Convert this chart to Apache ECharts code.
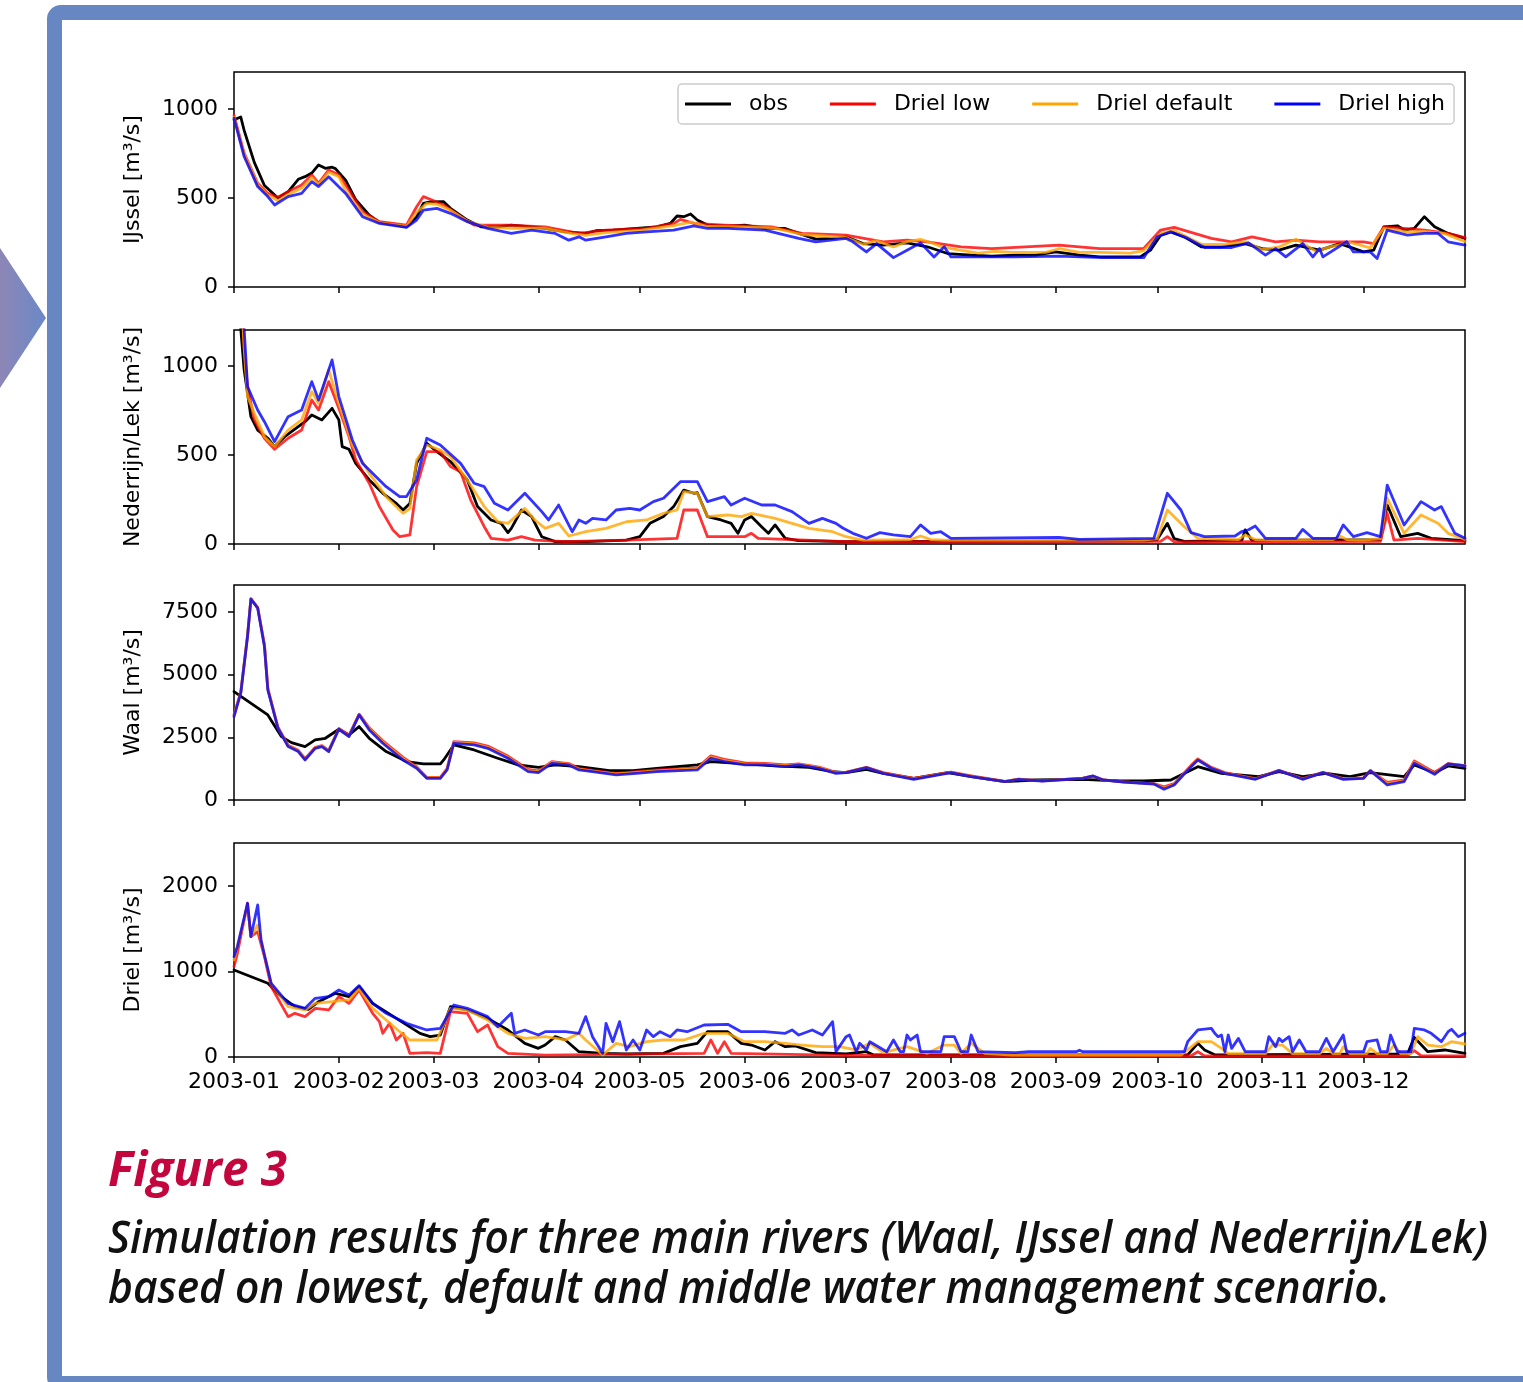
<!DOCTYPE html>
<html>
<head>
<meta charset="utf-8">
<script src="https://cdn.jsdelivr.net/npm/echarts@6/dist/echarts.min.js"></script>
<style>
  html, body { margin: 0; padding: 0; background: #fff; }
  body { width: 1523px; height: 1382px; overflow: hidden; position: relative; }
  .frame {
    position: absolute; left: 47px; top: 5px; width: 1600px; height: 1386px;
    border: 15px solid #6787c3; border-radius: 14px; box-sizing: border-box;
  }
  .arrow {
    position: absolute; left: 0; top: 248px; width: 46px; height: 140px;
    clip-path: polygon(0 0, 100% 50%, 0 100%);
    background: linear-gradient(to right, #8d86b6, #6a89c7);
  }
  #chart { position: absolute; left: 0; top: 0; width: 1523px; height: 1382px; }
  .cap {
    position: absolute; left: 108px; white-space: nowrap; font-family: "Open Sans", sans-serif;
    font-style: italic; transform-origin: 0 0;
  }
  .fig { top: 1143px; font-size: 49px; line-height: 49px; font-weight: 700; color: #c3063d; }
  .l1 { top: 1212px; font-size: 46px; line-height: 46px; font-weight: 600; color: #111; }
  .l2 { top: 1262px; font-size: 46px; line-height: 46px; font-weight: 600; color: #111; }
</style>
</head>
<body>
<div class="arrow"></div>
<div class="frame"></div>
<div id="chart"></div>
<div class="cap fig" data-w="179">Figure 3</div>
<div class="cap l1" data-w="1380">Simulation results for three main rivers (Waal, IJssel and Nederrijn/Lek)</div>
<div class="cap l2" data-w="1282">based on lowest, default and middle water management scenario.</div>
<script>
// x = day of 2003 (0 = 1 Jan), month ticks
const monthStarts = [0, 31, 59, 90, 120, 151, 181, 212, 243, 273, 304, 334]
const monthLabels = ['2003-01', '2003-02', '2003-03', '2003-04', '2003-05', '2003-06',
  '2003-07', '2003-08', '2003-09', '2003-10', '2003-11', '2003-12']

const riverNames = ['IJssel [m³/s]', 'Nederrijn/Lek [m³/s]', 'Waal [m³/s]', 'Driel [m³/s]']
const yMax = [1208, 1202, 8570, 2503]
const yTicks = [[0, 500, 1000], [0, 500, 1000], [0, 2500, 5000, 7500], [0, 1000, 2000]]
const seriesNames = ['obs', 'Driel low', 'Driel default', 'Driel high']

// IJssel
const ijsselObs = [[0,940],[2,955],[3,880],[6,700],[9,570],[13,500],[16,535],[19,605],[21,620],[23,640],[25,686],[27,667],[29,673],[30,665],[33,600],[36,490],[40,404],[43,363],[48,348],[51,338],[54,395],[56,470],[58,478],[62,479],[64,442],[69,376],[73,338],[78,338],[82,348],[88,338],[92,329],[98,310],[104,301],[107,316],[112,320],[119,329],[125,338],[129,357],[131,399],[133,395],[135,410],[137,376],[140,348],[146,342],[151,348],[157,329],[163,329],[167,301],[172,269],[177,273],[181,282],[186,244],[192,235],[199,248],[205,226],[211,188],[218,179],[224,173],[231,179],[237,179],[243,197],[250,179],[256,169],[268,169],[271,207],[274,291],[277,310],[281,282],[286,226],[292,226],[299,244],[304,216],[309,207],[314,235],[321,207],[327,244],[334,197],[337,207],[340,338],[344,344],[346,320],[349,329],[352,395],[355,338],[359,301],[364,273]]
const ijsselLow = [[0,965],[3,752],[7,583],[10,526],[13,504],[16,536],[20,573],[23,630],[25,583],[28,658],[31,630],[34,545],[38,423],[43,367],[51,348],[54,451],[56,508],[58,493],[62,461],[67,395],[71,348],[81,348],[92,338],[102,301],[110,320],[122,329],[130,357],[132,380],[136,357],[145,348],[159,338],[168,301],[181,291],[192,254],[199,263],[205,254],[215,226],[224,216],[244,235],[256,216],[269,216],[274,320],[278,335],[289,273],[295,254],[301,282],[308,254],[314,263],[321,254],[334,254],[337,244],[340,338],[346,329],[352,320],[359,301],[364,278]]
const ijsselDefault = [[0,955],[3,745],[7,575],[10,515],[13,485],[16,520],[20,555],[23,615],[25,575],[28,645],[31,620],[33,540],[38,410],[43,362],[51,340],[54,420],[57,470],[60,465],[64,432],[69,370],[75,335],[82,330],[92,330],[100,300],[104,290],[110,305],[120,318],[130,345],[135,365],[140,340],[150,338],[160,330],[168,295],[181,278],[186,240],[190,260],[195,225],[199,255],[203,268],[206,250],[209,228],[212,215],[220,190],[225,200],[230,195],[240,195],[244,215],[250,195],[256,195],[265,190],[269,205],[274,300],[278,318],[286,240],[293,240],[299,255],[304,210],[309,225],[314,268],[320,200],[324,225],[330,250],[336,220],[340,330],[347,310],[352,312],[358,300],[364,255]]
const ijsselHigh = [[0,949],[3,733],[7,564],[10,508],[12,461],[16,508],[20,526],[23,592],[25,564],[28,620],[33,526],[38,395],[43,357],[51,335],[54,376],[56,432],[60,442],[64,414],[69,367],[75,329],[82,301],[88,320],[95,301],[99,263],[102,282],[104,263],[110,282],[116,301],[122,310],[130,320],[136,344],[140,329],[146,329],[157,320],[167,273],[172,254],[181,273],[183,254],[187,197],[190,244],[195,165],[199,207],[203,248],[207,169],[210,226],[212,169],[231,169],[244,173],[257,165],[269,165],[273,282],[277,310],[282,273],[287,222],[295,222],[300,248],[305,179],[308,216],[311,169],[316,244],[319,169],[321,216],[322,169],[329,254],[331,197],[336,197],[338,160],[341,320],[347,291],[352,301],[356,301],[359,254],[364,235]]

// Nederrijn/Lek
const lekObs = [[0,1650],[2,1210],[3,978],[5,715],[7,640],[10,594],[12,547],[15,603],[17,631],[21,687],[23,725],[26,697],[29,762],[31,697],[32,547],[34,532],[36,453],[40,360],[44,285],[48,228],[50,191],[52,228],[54,453],[57,566],[60,519],[64,463],[69,360],[72,210],[76,135],[79,116],[81,64],[82,88],[85,191],[88,154],[91,41],[95,13],[104,13],[116,22],[120,41],[123,116],[127,154],[130,210],[133,303],[136,285],[137,288],[140,154],[144,135],[147,116],[149,60],[151,135],[153,154],[156,97],[158,60],[160,107],[163,32],[167,19],[181,13],[270,18],[273,25],[276,116],[278,30],[281,15],[298,20],[299,79],[301,20],[339,25],[341,219],[345,41],[350,60],[354,32],[364,19]]
const lekLow = [[0,2200],[3,1100],[4,884],[6,697],[9,594],[12,532],[16,594],[20,640],[23,809],[25,753],[28,912],[31,762],[34,603],[36,472],[40,341],[43,210],[47,79],[49,41],[52,51],[54,322],[57,519],[61,519],[64,435],[67,406],[70,247],[74,97],[76,32],[81,22],[85,41],[89,22],[98,13],[116,22],[131,32],[133,191],[137,191],[140,41],[151,41],[153,60],[155,32],[181,13],[274,15],[276,41],[278,12],[339,15],[341,172],[343,22],[350,32],[364,13]]
const lekDefault = [[0,2250],[3,1100],[4,828],[6,734],[9,603],[12,547],[16,640],[20,697],[23,856],[25,790],[28,978],[31,790],[35,556],[40,397],[45,266],[50,172],[52,200],[54,472],[57,556],[61,528],[64,491],[69,360],[74,210],[78,125],[81,116],[86,200],[89,135],[92,88],[96,116],[99,45],[104,69],[110,88],[116,125],[122,135],[127,172],[131,191],[133,294],[137,285],[140,154],[146,163],[150,154],[153,172],[160,144],[165,116],[170,88],[177,69],[181,41],[186,22],[200,25],[203,45],[206,25],[210,22],[269,22],[273,30],[276,191],[281,97],[285,32],[297,25],[299,51],[302,25],[308,22],[325,25],[327,45],[329,25],[334,22],[339,30],[341,257],[346,60],[351,163],[356,116],[359,60],[364,26]]
const lekHigh = [[0,2300],[3,1210],[4,884],[7,753],[9,687],[12,575],[16,715],[20,753],[23,912],[25,809],[29,1034],[31,828],[35,584],[38,453],[42,378],[45,322],[49,266],[51,266],[54,360],[57,594],[61,556],[67,453],[71,341],[74,322],[77,229],[81,191],[86,285],[91,182],[93,135],[96,219],[100,69],[102,135],[104,116],[106,144],[110,135],[113,191],[117,200],[120,191],[124,238],[127,257],[132,350],[137,350],[140,238],[145,266],[147,219],[151,257],[156,219],[160,219],[165,182],[170,116],[174,144],[178,116],[180,90],[183,60],[187,32],[191,64],[195,51],[200,41],[203,107],[206,60],[209,69],[212,32],[244,37],[250,26],[272,32],[276,285],[280,191],[283,64],[287,41],[296,45],[298,70],[300,80],[302,101],[305,32],[314,32],[316,82],[319,32],[326,32],[328,107],[331,41],[335,64],[339,41],[341,331],[346,107],[351,238],[355,191],[357,210],[361,60],[364,32]]

// Waal
const waalObs = [[0,4323],[10,3392],[14,2527],[17,2288],[21,2128],[24,2394],[27,2460],[31,2820],[34,2594],[37,2926],[40,2460],[45,1929],[51,1530],[56,1436],[61,1436],[62,1596],[65,2195],[71,1995],[78,1663],[84,1397],[90,1303],[95,1397],[102,1330],[111,1170],[118,1170],[125,1264],[137,1397],[141,1530],[149,1463],[160,1357],[170,1303],[177,1131],[181,1091],[187,1224],[192,1064],[201,865],[211,1091],[218,931],[228,732],[237,798],[251,825],[262,758],[269,758],[277,798],[285,1330],[292,1064],[303,931],[309,1131],[316,931],[323,1064],[330,931],[336,1091],[346,931],[349,1397],[355,1091],[359,1357],[364,1264]]
const waalLow = [[0,3400],[2,4300],[4,6550],[5,8030],[7,7680],[9,6200],[10,4450],[13,2900],[16,2180],[19,1980],[21,1650],[24,2100],[26,2170],[28,1980],[31,2850],[34,2580],[37,3420],[40,2880],[44,2360],[50,1700],[54,1330],[57,900],[61,900],[63,1250],[65,2330],[71,2280],[75,2150],[81,1750],[87,1220],[90,1160],[94,1530],[99,1450],[102,1260],[106,1180],[113,1060],[119,1130],[125,1200],[137,1280],[141,1760],[145,1620],[151,1480],[157,1460],[163,1400],[167,1440],[173,1310],[178,1100],[181,1110],[187,1300],[192,1090],[201,860],[212,1110],[218,960],[228,740],[232,830],[239,760],[251,870],[254,950],[257,800],[263,720],[272,650],[275,520],[278,650],[283,1380],[285,1640],[289,1300],[293,1090],[302,850],[309,1180],[316,850],[322,1100],[328,850],[334,880],[336,1170],[341,700],[346,800],[349,1560],[355,1100],[359,1450],[364,1370]]
const waalDefault = [[0,3360],[2,4280],[4,6530],[5,8020],[7,7660],[9,6160],[10,4420],[13,2880],[16,2150],[19,1950],[21,1620],[24,2080],[26,2150],[28,1950],[31,2830],[34,2550],[37,3400],[40,2840],[44,2310],[50,1650],[54,1300],[57,880],[61,880],[63,1220],[65,2300],[71,2240],[75,2100],[81,1700],[87,1170],[90,1120],[94,1500],[99,1420],[102,1230],[106,1150],[113,1030],[119,1100],[125,1160],[137,1240],[141,1710],[145,1570],[151,1440],[157,1430],[163,1360],[167,1420],[173,1290],[178,1080],[181,1100],[187,1295],[192,1075],[201,840],[212,1100],[218,945],[228,735],[232,828],[239,760],[251,868],[254,955],[257,800],[263,720],[272,645],[275,470],[278,620],[283,1350],[285,1620],[289,1280],[293,1075],[302,838],[309,1175],[316,838],[322,1095],[328,838],[334,872],[336,1170],[341,650],[346,765],[349,1510],[355,1060],[359,1440],[364,1365]]
const waalHigh = [[0,3325],[2,4256],[4,6517],[5,8007],[7,7648],[9,6118],[10,4389],[13,2860],[16,2128],[19,1929],[21,1596],[24,2062],[26,2128],[28,1929],[31,2820],[34,2527],[37,3392],[40,2793],[44,2261],[50,1596],[54,1264],[57,865],[61,865],[63,1197],[65,2261],[71,2195],[75,2062],[81,1663],[87,1131],[90,1091],[94,1463],[99,1397],[102,1197],[106,1131],[113,998],[119,1064],[125,1131],[137,1197],[141,1663],[145,1530],[151,1397],[157,1397],[163,1330],[167,1397],[173,1264],[178,1064],[181,1091],[187,1290],[192,1064],[201,825],[212,1091],[218,931],[228,732],[232,825],[239,758],[251,865],[254,958],[257,798],[263,718],[272,638],[275,426],[278,598],[283,1330],[285,1596],[289,1264],[293,1064],[302,825],[309,1170],[316,825],[322,1091],[328,825],[334,865],[336,1170],[341,598],[346,732],[349,1463],[355,1024],[359,1436],[364,1357]]

// Driel
const drielObs = [[0,1018],[10,862],[14,706],[18,589],[22,558],[25,647],[30,745],[34,706],[37,823],[41,628],[48,452],[55,277],[58,238],[61,257],[64,589],[69,550],[75,452],[81,316],[86,160],[90,101],[92,140],[95,238],[98,199],[102,62],[109,43],[116,35],[127,43],[132,121],[137,160],[140,296],[146,296],[150,160],[153,140],[157,82],[160,179],[163,121],[166,129],[172,51],[181,35],[187,62],[189,25],[282,25],[285,160],[287,82],[290,25],[347,35],[349,230],[353,62],[358,82],[364,43]]
const drielLow = [[0,1057],[1,1213],[4,1798],[5,1408],[7,1466],[9,1174],[11,823],[16,472],[18,511],[21,472],[24,569],[28,550],[31,706],[34,628],[37,784],[41,511],[43,413],[44,277],[46,394],[48,199],[50,277],[52,43],[57,51],[61,43],[64,530],[69,511],[72,296],[75,374],[78,121],[81,43],[92,23],[139,43],[141,199],[143,43],[145,179],[147,43],[181,20],[283,15],[285,62],[287,12],[347,15],[349,74],[351,15],[364,12]]
const drielDefault = [[0,1135],[4,1759],[5,1408],[7,1544],[9,1193],[11,862],[16,589],[21,550],[24,628],[29,647],[34,667],[37,803],[41,569],[45,433],[49,296],[52,199],[60,199],[64,569],[69,550],[75,433],[81,277],[86,218],[92,238],[98,199],[102,277],[104,199],[109,23],[113,160],[117,121],[122,179],[127,199],[133,199],[139,277],[146,277],[151,179],[157,179],[163,160],[168,140],[174,121],[179,121],[184,82],[188,160],[192,51],[199,121],[205,43],[210,140],[213,140],[215,43],[218,160],[222,43],[230,23],[280,23],[285,179],[289,179],[292,101],[294,40],[305,40],[307,140],[310,140],[313,40],[321,40],[323,101],[325,40],[327,40],[328,121],[330,40],[335,40],[336,101],[338,40],[341,40],[343,140],[345,40],[348,40],[350,238],[353,140],[357,121],[360,179],[364,152]]
const drielHigh = [[0,1174],[1,1291],[4,1798],[5,1408],[7,1778],[8,1369],[9,1193],[11,862],[16,628],[21,569],[24,686],[28,706],[31,784],[34,725],[37,835],[41,628],[45,511],[51,394],[57,316],[61,335],[65,608],[69,569],[75,472],[78,355],[82,511],[83,277],[86,316],[90,257],[92,296],[98,296],[102,277],[104,472],[106,238],[109,43],[110,394],[112,179],[114,413],[116,82],[118,199],[120,82],[122,316],[124,238],[126,296],[129,238],[131,316],[134,296],[139,374],[146,382],[150,296],[157,296],[163,277],[165,316],[167,257],[171,316],[174,257],[177,413],[178,62],[181,238],[182,257],[184,62],[185,160],[187,82],[188,179],[193,62],[195,199],[197,62],[198,62],[199,257],[200,199],[202,257],[203,62],[209,62],[210,238],[213,238],[215,62],[217,62],[218,257],[220,62],[231,51],[235,62],[249,62],[250,80],[251,62],[281,62],[282,179],[285,316],[289,335],[290,277],[291,238],[292,257],[293,62],[294,257],[295,101],[297,218],[299,62],[305,62],[306,238],[308,121],[309,218],[310,179],[312,238],[313,62],[315,199],[317,62],[321,62],[323,218],[325,62],[328,257],[329,62],[334,62],[335,179],[338,199],[339,62],[341,62],[342,257],[344,62],[348,62],[349,335],[352,316],[354,277],[357,179],[359,296],[360,324],[362,238],[364,277]]

const panelData = [
  [ijsselObs, ijsselLow, ijsselDefault, ijsselHigh],
  [lekObs, lekLow, lekDefault, lekHigh],
  [waalObs, waalLow, waalDefault, waalHigh],
  [drielObs, drielLow, drielDefault, drielHigh]
]

const lineColors = ['#000000', '#ff0000', '#ffa500', '#0000ff']
const lineOpacity = [1, 0.8, 0.8, 0.8]
const gridTops = [72, 330, 585, 843]
const gridHeights = [215, 214, 215, 214]
const font = 'DejaVu Sans'

const grids = [], xAxes = [], yAxes = [], series = []
for (let i = 0; i < 4; i++) {
  grids.push({
    left: 234, width: 1231, top: gridTops[i], height: gridHeights[i],
    show: true, borderColor: '#000', borderWidth: 1.5, backgroundColor: 'transparent'
  })
  xAxes.push({
    type: 'value', gridIndex: i, min: 0, max: 364,
    axisLine: { show: false },
    splitLine: { show: false },
    axisTick: { show: true, customValues: monthStarts, length: 6, lineStyle: { color: '#000', width: 1.5 } },
    axisLabel: {
      show: i === 3, customValues: monthStarts, margin: 14,
      fontSize: 22, fontFamily: font, color: '#000',
      formatter: v => monthLabels[monthStarts.indexOf(Math.round(v))] || ''
    }
  })
  yAxes.push({
    type: 'value', gridIndex: i, min: 0, max: yMax[i],
    name: riverNames[i], nameLocation: 'middle', nameGap: 90,
    nameTextStyle: { fontSize: 22, fontFamily: font, color: '#000' },
    axisLine: { show: false },
    splitLine: { show: false },
    axisTick: { show: true, customValues: yTicks[i], length: 6, lineStyle: { color: '#000', width: 1.5 } },
    axisLabel: {
      customValues: yTicks[i], margin: 16, fontSize: 22, fontFamily: font, color: '#000',
      formatter: v => String(v)
    }
  })
  for (let s = 0; s < 4; s++) {
    series.push({
      type: 'line', name: seriesNames[s], xAxisIndex: i, yAxisIndex: i,
      data: panelData[i][s], symbol: 'none', showSymbol: false, clip: true,
      color: lineColors[s],
      lineStyle: { color: lineColors[s], width: 2.8, opacity: lineOpacity[s], cap: 'round', join: 'round' },
      emphasis: { disabled: true }
    })
  }
}

const chart = echarts.init(document.getElementById('chart'))
chart.setOption({
  animation: false,
  textStyle: { fontFamily: font },
  grid: grids,
  xAxis: xAxes,
  yAxis: yAxes,
  legend: {
    data: seriesNames, left: 678, top: 84,
    padding: [9, 9, 9, 7], itemGap: 42, itemWidth: 46, itemHeight: 3, icon: 'rect',
    backgroundColor: 'rgba(255,255,255,0.8)', borderColor: '#cccccc', borderWidth: 1.5, borderRadius: 4,
    textStyle: { fontSize: 22, fontFamily: font, color: '#000', lineHeight: 22, padding: [0, 0, 0, 13] }
  },
  series: series
})

// squeeze caption lines to the widths they take in the figure
document.querySelectorAll('.cap').forEach(el => {
  const w = el.getBoundingClientRect().width
  el.style.transform = 'scaleX(' + (Number(el.dataset.w) / w) + ')'
})
</script>
</body>
</html>
